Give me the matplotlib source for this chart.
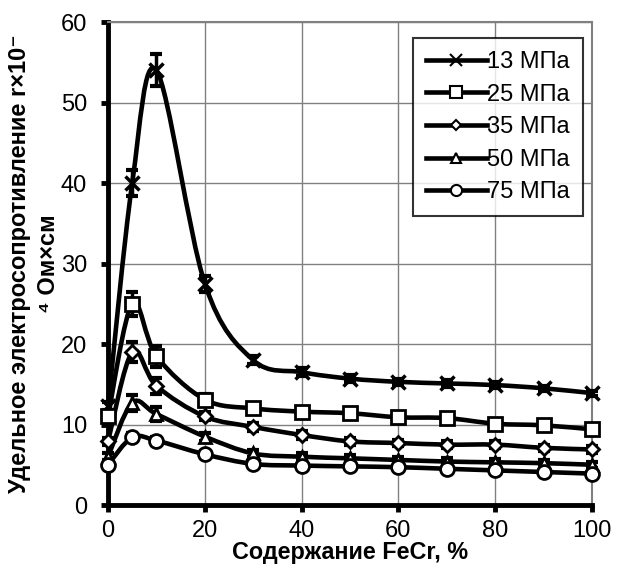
import numpy as np
import matplotlib.pyplot as plt
from matplotlib.path import Path
from matplotlib.patches import PathPatch
from matplotlib.lines import Line2D

plt.rcParams['font.family'] = ['Liberation Sans', 'DejaVu Sans']

# Содержание FeCr, %
fecr = [0, 5, 10, 20, 30, 40, 50, 60, 70, 80, 90, 100]

# удельное электросопротивление при разном давлении
r13 = [12.3, 40.0, 54.0, 27.5, 18.0, 16.5, 15.7, 15.3, 15.1, 14.9, 14.5, 13.9]
r25 = [11.0, 25.0, 18.5, 13.1, 12.0, 11.6, 11.4, 10.9, 10.8, 10.1, 9.9, 9.4]
r35 = [7.9, 19.0, 14.8, 11.0, 9.7, 8.7, 7.9, 7.7, 7.5, 7.5, 7.1, 6.9]
r50 = [6.0, 12.7, 11.3, 8.5, 6.4, 6.0, 5.8, 5.6, 5.4, 5.3, 5.2, 5.0]
r75 = [5.0, 8.4, 8.0, 6.3, 5.1, 4.9, 4.8, 4.7, 4.5, 4.3, 4.1, 3.9]

# погрешности
e13 = [0.5, 1.6, 2.0, 1.0, 0.5, 0.5, 0.4, 0.4, 0.4, 0.4, 0.3, 0.3]
e25 = [0.5, 1.5, 1.3, 0.7, 0.5, 0.5, 0.5, 0.5, 0.5, 0.5, 0.5, 0.5]
e35 = [0.4, 1.2, 1.0, 0.5, 0.5, 0.5, 0.4, 0.4, 0.4, 0.4, 0.4, 0.4]
e50 = [0.4, 1.0, 0.9, 0.5, 0.4, 0.4, 0.4, 0.4, 0.4, 0.4, 0.4, 0.4]
e75 = [0.4, 0.5, 0.5, 0.4, 0.3, 0.3, 0.3, 0.3, 0.3, 0.3, 0.3, 0.3]

labels = ['13 МПа', '25 МПа', '35 МПа', '50 МПа', '75 МПа']
series = [r13, r25, r35, r50, r75]
errors = [e13, e25, e35, e50, e75]
markers = ['x', 's', 'D', '^', 'o']
msizes = [10, 10, 7, 9, 10]


def smooth_path(x, y):
    # сглаженная линия как в Excel (кривые Безье)
    p = np.column_stack([x, y]).astype(float)
    n = len(p)
    verts = [p[0]]
    codes = [Path.MOVETO]
    for i in range(n - 1):
        p0 = p[i - 1] if i > 0 else p[i]
        p1 = p[i]
        p2 = p[i + 1]
        p3 = p[i + 2] if i + 2 < n else p[i + 1]
        c1 = p1 + (p2 - p0) / 6.0
        c2 = p2 - (p3 - p1) / 6.0
        verts += [c1, c2, p2]
        codes += [Path.CURVE4] * 3
    return Path(verts, codes)


fig = plt.figure(figsize=(6.18, 5.8), dpi=100)
ax = fig.add_axes([0.1748, 0.1293, 0.7832, 0.8327])

handles = []
for y, e, lab, m, ms in zip(series, errors, labels, markers, msizes):
    patch = PathPatch(smooth_path(fecr, y), facecolor='none', edgecolor='black',
                      lw=3.3, zorder=3, clip_on=False)
    ax.add_patch(patch)
    ax.errorbar(fecr, y, yerr=e, fmt='none', ecolor='black', elinewidth=2.5,
                capsize=4, capthick=3, zorder=3, clip_on=False)
    mew = 2.5 if m == 'x' else 2.0
    ax.plot(fecr, y, linestyle='none', marker=m, ms=ms, mfc='white',
            mec='black', mew=mew, zorder=4, clip_on=False)
    handles.append(Line2D([], [], color='black', lw=3.3, marker=m, ms=ms * 0.8,
                          mfc='white', mec='black', mew=1.5))

ax.set_xlim(0, 100)
ax.set_ylim(0, 60)
ax.set_xticks(range(0, 101, 20))
ax.set_yticks(range(0, 61, 10))
ax.grid(True, color='#808080', lw=1)
ax.set_axisbelow(True)

for s in ['left', 'bottom']:
    ax.spines[s].set_linewidth(3.5)
    ax.spines[s].set_color('black')
for s in ['top', 'right']:
    ax.spines[s].set_linewidth(1.5)
    ax.spines[s].set_color('#808080')

ax.tick_params(axis='both', direction='out', length=5, width=3.5,
               labelsize=17)
ax.tick_params(axis='y', pad=10)
ax.tick_params(axis='x', pad=6)

ax.set_xlabel('Содержание FeCr, %', fontsize=16.8, fontweight='bold', labelpad=-1)
ax.set_ylabel('Удельное электросопротивление r×10\u207b\n\u2074 Ом×см',
              fontsize=17, fontweight='bold', linespacing=1.3)
ax.yaxis.set_label_coords(-0.1, 0.5)

leg = ax.legend(handles, labels, loc='upper right', bbox_to_anchor=(0.981, 0.967),
                fontsize=17, frameon=True, fancybox=False, edgecolor='black',
                handlelength=2.6, handletextpad=0.0, labelspacing=0.45,
                borderpad=0.55, borderaxespad=0)
leg.get_frame().set_linewidth(1.5)

fig.savefig('out.png', dpi=100)
